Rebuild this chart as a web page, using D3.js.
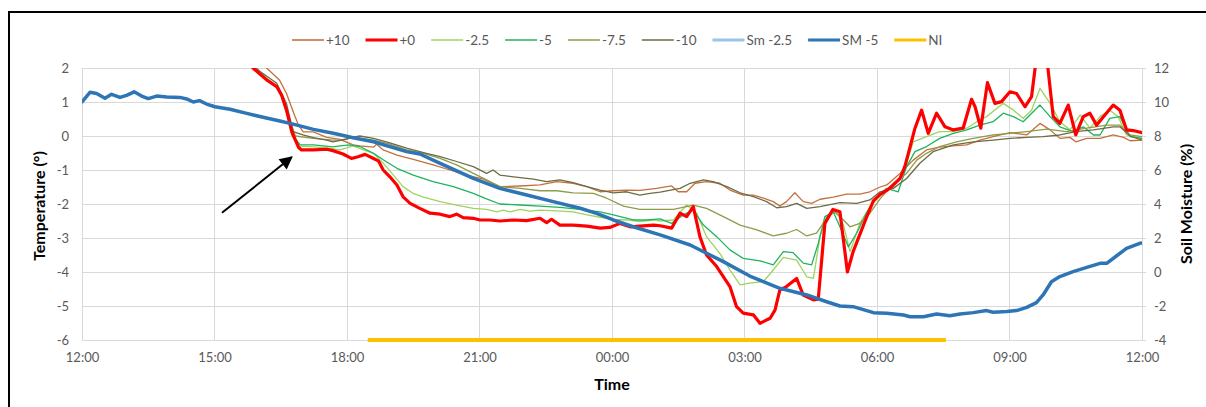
<!DOCTYPE html>
<html>
<head>
<meta charset="utf-8">
<script src="https://cdn.jsdelivr.net/npm/d3@7"></script>
<style>
  body { margin: 0; background: #fff; }
  svg { display: block; font-family: Lato, "Open Sans", sans-serif; }
</style>
</head>
<body>
<svg id="chart" width="1206" height="407"></svg>
<script>
// Time is given as hours after 12:00 on the first day (0..24).
const timeTicks = ["12:00", "15:00", "18:00", "21:00", "00:00", "03:00", "06:00", "09:00", "12:00"];
const tempTicks = [2, 1, 0, -1, -2, -3, -4, -5, -6];
const moistTicks = [12, 10, 8, 6, 4, 2, 0, -2, -4];

// Temperature (°) at each probe depth: [hours, value]
const plus10 = [[3.5,3.2],[4.18,2.0],[4.47,1.65],[4.63,1.25],[4.78,0.72],[4.9,0.32],[5.01,0.12],[5.24,0.12],[5.54,-0.04],[5.84,-0.1],[6.14,-0.26],[6.29,-0.29],[6.6,-0.33],[6.67,-0.24],[6.82,-0.41],[7.13,-0.56],[7.5,-0.69],[7.95,-0.85],[8.33,-1.0],[8.71,-1.15],[9.09,-1.27],[9.46,-1.49],[9.92,-1.47],[10.37,-1.44],[10.75,-1.34],[11.12,-1.39],[11.43,-1.49],[11.73,-1.64],[12.03,-1.61],[12.33,-1.59],[12.63,-1.6],[13.01,-1.54],[13.35,-1.47],[13.5,-1.64],[13.69,-1.64],[13.88,-1.39],[14.14,-1.34],[14.44,-1.39],[14.67,-1.59],[14.97,-1.74],[15.2,-1.74],[15.43,-1.83],[15.65,-1.93],[15.8,-2.06],[15.95,-1.93],[16.14,-1.67],[16.33,-1.93],[16.52,-1.98],[16.71,-1.86],[17.01,-1.8],[17.31,-1.71],[17.61,-1.71],[17.84,-1.64],[18.07,-1.5],[18.22,-1.44],[18.52,-1.1],[18.82,-0.71],[19.12,-0.41],[19.42,-0.33],[19.73,-0.29],[20.03,-0.26],[20.33,-0.12],[20.63,-0.02],[21.01,0.1],[21.39,0.03],[21.69,0.37],[21.92,0.18],[22.14,-0.07],[22.37,-0.04],[22.5,-0.17],[22.75,-0.07],[23.05,-0.07],[23.35,0.03],[23.58,-0.04],[23.73,-0.14],[24.0,-0.12]];

const plus0 = [[3.5,2.9],[3.87,2.0],[4.18,1.65],[4.41,1.45],[4.52,1.2],[4.63,0.76],[4.75,0.13],[4.9,-0.33],[4.97,-0.41],[5.24,-0.41],[5.54,-0.39],[5.68,-0.43],[5.91,-0.53],[6.1,-0.66],[6.25,-0.61],[6.41,-0.54],[6.6,-0.66],[6.71,-0.73],[6.82,-1.0],[6.97,-1.2],[7.13,-1.44],[7.27,-1.79],[7.43,-1.98],[7.65,-2.13],[7.88,-2.27],[8.11,-2.3],[8.33,-2.37],[8.48,-2.3],[8.63,-2.4],[8.86,-2.42],[9.01,-2.47],[9.24,-2.47],[9.46,-2.5],[9.77,-2.47],[10.07,-2.49],[10.37,-2.42],[10.52,-2.55],[10.63,-2.45],[10.82,-2.62],[11.12,-2.62],[11.43,-2.65],[11.73,-2.71],[11.95,-2.69],[12.18,-2.57],[12.41,-2.67],[12.63,-2.65],[12.94,-2.62],[13.09,-2.64],[13.35,-2.71],[13.54,-2.27],[13.69,-2.37],[13.84,-2.08],[13.99,-2.96],[14.14,-3.5],[14.37,-3.84],[14.67,-4.43],[14.82,-5.02],[14.97,-5.21],[15.2,-5.26],[15.35,-5.51],[15.58,-5.36],[15.69,-5.12],[15.8,-4.53],[15.95,-4.43],[16.18,-4.19],[16.33,-4.68],[16.56,-4.82],[16.67,-4.8],[16.82,-2.57],[17.0,-2.16],[17.16,-2.23],[17.33,-4.0],[17.46,-3.4],[17.61,-2.9],[17.76,-2.4],[17.92,-1.9],[18.07,-1.72],[18.22,-1.6],[18.37,-1.44],[18.52,-1.25],[18.63,-0.9],[18.75,-0.31],[18.86,0.23],[19.01,0.76],[19.16,0.08],[19.35,0.67],[19.54,0.27],[19.73,0.18],[19.95,0.23],[20.14,1.08],[20.22,0.86],[20.35,0.23],[20.5,1.57],[20.67,0.96],[20.82,1.01],[21.01,1.3],[21.16,1.25],[21.35,0.86],[21.5,1.16],[21.58,2.0],[21.7,2.8],[21.87,2.0],[21.99,0.57],[22.14,0.37],[22.33,0.91],[22.5,0.03],[22.67,0.57],[22.82,0.67],[22.97,0.32],[23.16,0.62],[23.35,0.91],[23.5,0.76],[23.65,0.18],[23.8,0.16],[24.0,0.1]];

const minus2_5 = [[3.5,2.9],[3.87,2.0],[4.18,1.7],[4.41,1.45],[4.52,1.15],[4.63,0.7],[4.75,0.0],[4.9,-0.3],[5.24,-0.32],[5.54,-0.35],[5.84,-0.41],[6.14,-0.29],[6.37,-0.41],[6.6,-0.51],[6.82,-0.8],[7.05,-1.15],[7.27,-1.49],[7.5,-1.69],[7.73,-1.8],[8.11,-1.93],[8.48,-2.03],[8.86,-2.13],[9.16,-2.16],[9.39,-2.23],[9.54,-2.18],[9.69,-2.23],[9.92,-2.16],[10.14,-2.21],[10.37,-2.18],[10.75,-2.2],[11.12,-2.23],[11.43,-2.32],[11.73,-2.39],[12.03,-2.45],[12.33,-2.47],[12.63,-2.52],[12.94,-2.47],[13.09,-2.5],[13.39,-2.47],[13.69,-2.03],[13.92,-2.27],[14.14,-2.96],[14.44,-3.45],[14.67,-3.94],[14.9,-4.38],[15.12,-4.33],[15.43,-4.28],[15.65,-3.94],[15.88,-3.57],[16.18,-3.65],[16.41,-4.14],[16.56,-4.19],[16.71,-2.96],[16.86,-2.37],[17.09,-2.23],[17.24,-2.62],[17.39,-3.4],[17.61,-2.57],[17.84,-2.08],[18.07,-1.76],[18.37,-1.49],[18.6,-1.1],[18.82,-0.17],[19.12,-0.02],[19.42,0.13],[19.73,0.13],[20.03,0.23],[20.26,0.42],[20.48,0.57],[20.71,0.81],[20.86,0.96],[21.09,0.76],[21.31,0.52],[21.5,0.76],[21.69,1.4],[21.92,0.96],[22.14,0.42],[22.37,0.18],[22.6,0.62],[22.82,0.23],[23.05,0.57],[23.27,0.76],[23.46,0.57],[23.65,0.03],[24.0,-0.07]];

const minus5 = [[3.5,2.8],[3.9,2.0],[4.2,1.65],[4.43,1.4],[4.55,1.1],[4.66,0.6],[4.78,0.0],[4.94,-0.26],[5.24,-0.26],[5.68,-0.32],[5.84,-0.29],[6.07,-0.26],[6.29,-0.31],[6.6,-0.51],[6.82,-0.7],[7.13,-0.95],[7.5,-1.15],[7.95,-1.34],[8.41,-1.49],[8.86,-1.69],[9.16,-1.85],[9.46,-2.0],[9.92,-2.03],[10.37,-2.06],[10.82,-2.1],[11.28,-2.16],[11.73,-2.23],[12.03,-2.32],[12.48,-2.47],[12.79,-2.47],[13.09,-2.44],[13.35,-2.57],[13.61,-2.32],[13.84,-2.18],[14.07,-2.62],[14.37,-2.96],[14.67,-3.35],[14.97,-3.6],[15.35,-3.67],[15.65,-3.79],[15.88,-3.4],[16.1,-3.43],[16.33,-3.74],[16.52,-3.79],[16.67,-3.16],[16.82,-2.37],[17.01,-2.23],[17.16,-2.67],[17.35,-3.26],[17.54,-2.86],[17.76,-2.27],[17.99,-1.8],[18.22,-1.54],[18.48,-1.64],[18.67,-0.9],[18.86,-0.46],[19.12,-0.31],[19.42,-0.07],[19.73,0.08],[20.03,0.18],[20.33,0.32],[20.63,0.42],[20.86,0.67],[21.09,0.57],[21.31,0.42],[21.69,0.91],[21.92,0.57],[22.14,0.27],[22.44,0.13],[22.67,0.27],[22.9,0.03],[23.05,0.03],[23.27,0.52],[23.5,0.57],[23.73,-0.02],[24.0,-0.07]];

const minus7_5 = [[3.5,2.9],[3.95,2.0],[4.25,1.6],[4.45,1.4],[4.58,1.05],[4.7,0.5],[4.83,0.0],[5.24,-0.07],[5.68,-0.12],[5.84,-0.12],[6.14,-0.04],[6.6,-0.12],[6.97,-0.24],[7.35,-0.41],[7.73,-0.51],[8.11,-0.66],[8.48,-0.85],[8.86,-1.1],[9.16,-1.29],[9.46,-1.49],[9.92,-1.54],[10.37,-1.61],[10.75,-1.61],[11.12,-1.67],[11.58,-1.69],[11.88,-1.83],[12.26,-2.06],[12.63,-2.16],[13.01,-2.16],[13.39,-2.16],[13.84,-2.03],[14.14,-2.13],[14.52,-2.37],[14.9,-2.62],[15.28,-2.76],[15.65,-2.94],[15.95,-2.86],[16.18,-2.75],[16.41,-2.94],[16.63,-2.86],[16.86,-2.42],[17.01,-2.2],[17.24,-2.47],[17.39,-2.67],[17.61,-2.57],[17.84,-2.27],[18.07,-1.85],[18.37,-1.39],[18.67,-1.1],[18.9,-0.71],[19.12,-0.51],[19.42,-0.31],[19.8,-0.17],[20.18,-0.07],[20.63,0.03],[21.01,0.08],[21.39,0.13],[21.84,0.2],[22.29,0.13],[22.75,0.23],[23.2,0.32],[23.5,0.32],[23.73,0.03],[24.0,-0.02]];

const minus10 = [[3.5,3.0],[3.92,2.0],[4.41,1.55],[4.63,0.95],[4.78,0.13],[5.0,0.03],[5.24,-0.05],[5.54,-0.12],[5.68,-0.17],[5.97,-0.1],[6.14,-0.03],[6.29,0.0],[6.6,-0.07],[6.97,-0.2],[7.35,-0.36],[7.8,-0.51],[8.11,-0.61],[8.48,-0.75],[8.86,-0.9],[9.16,-1.1],[9.31,-1.0],[9.46,-1.15],[9.77,-1.2],[10.22,-1.27],[10.52,-1.34],[10.82,-1.29],[11.12,-1.37],[11.43,-1.49],[11.73,-1.59],[12.03,-1.67],[12.33,-1.64],[12.63,-1.74],[12.86,-1.69],[13.09,-1.65],[13.54,-1.54],[13.77,-1.39],[14.07,-1.29],[14.29,-1.34],[14.6,-1.49],[14.9,-1.67],[15.2,-1.78],[15.5,-1.93],[15.73,-2.11],[15.95,-2.08],[16.18,-1.98],[16.41,-2.13],[16.71,-2.08],[17.16,-1.96],[17.54,-1.98],[17.84,-1.88],[18.07,-1.64],[18.37,-1.54],[18.67,-1.25],[18.97,-0.8],[19.27,-0.46],[19.73,-0.26],[20.18,-0.17],[20.63,-0.12],[21.01,-0.07],[21.39,-0.04],[21.76,-0.02],[22.14,0.03],[22.5,0.13],[22.9,0.18],[23.35,0.27],[23.5,0.27],[23.73,0.0],[24.0,-0.12]];

// Soil moisture (%) — Sm -2.5 has no readings in this period
const smMinus2_5 = [];
const smMinus5 = [[0,10.0],[0.18,10.57],[0.33,10.5],[0.52,10.22],[0.67,10.45],[0.86,10.27],[1.01,10.39],[1.18,10.6],[1.35,10.35],[1.5,10.2],[1.69,10.35],[1.92,10.3],[2.22,10.27],[2.37,10.18],[2.52,10.0],[2.66,10.08],[2.82,9.88],[3.01,9.72],[3.35,9.57],[3.73,9.33],[4.1,9.1],[4.48,8.88],[4.78,8.7],[5.24,8.39],[5.69,8.16],[6.14,7.9],[6.6,7.66],[7.35,7.08],[7.65,6.94],[8.11,6.39],[8.86,5.51],[9.46,4.92],[10.07,4.53],[10.67,4.14],[11.28,3.75],[11.65,3.45],[12.03,3.06],[12.48,2.66],[13.09,2.18],[13.77,1.59],[14.52,0.61],[15.12,-0.24],[15.8,-0.96],[16.41,-1.35],[16.86,-1.75],[17.16,-2.0],[17.46,-2.04],[17.92,-2.39],[18.22,-2.43],[18.6,-2.53],[18.75,-2.63],[19.05,-2.63],[19.35,-2.47],[19.65,-2.57],[19.88,-2.47],[20.18,-2.39],[20.48,-2.27],[20.63,-2.37],[20.94,-2.33],[21.16,-2.27],[21.39,-2.08],[21.61,-1.8],[21.76,-1.35],[21.95,-0.57],[22.14,-0.27],[22.44,0.02],[22.75,0.27],[23.05,0.51],[23.2,0.51],[23.42,0.94],[23.65,1.39],[23.95,1.69],[24.0,1.7]];

// NI period, drawn along the bottom of the temperature axis
const niPeriod = [[6.47,-6],[19.56,-6]];

// Annotation arrow, in data units: [hours, temperature]
const arrowFrom = [3.17, -2.26];
const arrowTo = [4.75, -0.62];

const plot = { left: 82, right: 1142, top: 68, bottom: 340 };

const svg = d3.select("#chart");

// Outer chart frame
svg.append("rect")
  .attr("x", 9).attr("y", 12)
  .attr("width", 1400).attr("height", 600)
  .attr("fill", "none").attr("stroke", "#000").attr("stroke-width", 2);

const x = d3.scaleLinear().domain([0, 24]).range([plot.left, plot.right]);
const yT = d3.scaleLinear().domain([-6, 2]).range([plot.bottom, plot.top]);
const yM = d3.scaleLinear().domain([-4, 12]).range([plot.bottom, plot.top]);

const gridColor = "#d9d9d9";
const textColor = "#595959";

// Gridlines
const grid = svg.append("g");
grid.selectAll("line.h").data(tempTicks).join("line")
  .attr("x1", plot.left).attr("x2", plot.right)
  .attr("y1", d => yT(d)).attr("y2", d => yT(d))
  .attr("stroke", gridColor).attr("stroke-width", 1).attr("shape-rendering", "crispEdges");
const xTickVals = d3.range(0, 25, 3);
grid.selectAll("line.v").data(xTickVals).join("line")
  .attr("x1", d => x(d)).attr("x2", d => x(d))
  .attr("y1", plot.top).attr("y2", plot.bottom)
  .attr("stroke", gridColor).attr("stroke-width", 1).attr("shape-rendering", "crispEdges");

// Axes
const xAxis = svg.append("g")
  .attr("transform", `translate(0,${plot.bottom})`)
  .call(d3.axisBottom(x).tickValues(xTickVals).tickFormat((d, i) => timeTicks[i]).tickSize(0).tickPadding(13));
const leftAxis = svg.append("g")
  .attr("transform", `translate(${plot.left},0)`)
  .call(d3.axisLeft(yT).tickValues(tempTicks).tickFormat(d3.format("d")).tickSize(0).tickPadding(13));
const rightAxis = svg.append("g")
  .attr("transform", `translate(${plot.right},0)`)
  .call(d3.axisRight(yM).tickValues(moistTicks).tickFormat(d3.format("d")).tickSize(4).tickPadding(8));

[xAxis, leftAxis, rightAxis].forEach(g => {
  g.select(".domain").attr("stroke", gridColor).attr("shape-rendering", "crispEdges");
  g.selectAll(".tick line").attr("stroke", gridColor);
  g.selectAll("text").attr("fill", textColor).style("font-size", "13px").style("font-family", "Lato, 'Open Sans', sans-serif");
});
leftAxis.selectAll("text").text(d => d < 0 ? "-" + Math.abs(d) : d);
rightAxis.selectAll("text").text(d => d < 0 ? "-" + Math.abs(d) : d);

// Axis titles
svg.append("text")
  .attr("transform", `translate(45,${(plot.top + plot.bottom) / 2 + 2}) rotate(-90)`)
  .attr("text-anchor", "middle")
  .style("font-size", "16px").style("font-weight", "bold").attr("fill", "#000")
  .text("Temperature (°)");
svg.append("text")
  .attr("transform", `translate(1192,${(plot.top + plot.bottom) / 2}) rotate(-90)`)
  .attr("text-anchor", "middle")
  .style("font-size", "16px").style("font-weight", "bold").attr("fill", "#000")
  .text("Soil Moisture (%)");
svg.append("text")
  .attr("x", (plot.left + plot.right) / 2).attr("y", 390)
  .attr("text-anchor", "middle")
  .style("font-size", "16px").style("font-weight", "bold").attr("fill", "#000")
  .text("Time");

// Clip region for the data lines
svg.append("clipPath").attr("id", "plotClip")
  .append("rect")
  .attr("x", plot.left).attr("y", plot.top)
  .attr("width", plot.right - plot.left).attr("height", plot.bottom - plot.top);

const series = [
  { name: "+10",    data: plus10,     axis: yT, color: "#c4703c", width: 1.3 },
  { name: "+0",     data: plus0,      axis: yT, color: "#ff0000", width: 3.2 },
  { name: "-2.5",   data: minus2_5,   axis: yT, color: "#9fd360", width: 1.3 },
  { name: "-5",     data: minus5,     axis: yT, color: "#1fb35e", width: 1.3 },
  { name: "-7.5",   data: minus7_5,   axis: yT, color: "#8d9c48", width: 1.3 },
  { name: "-10",    data: minus10,    axis: yT, color: "#6e6a45", width: 1.3 },
  { name: "Sm -2.5",data: smMinus2_5, axis: yM, color: "#9dc3e6", width: 3.5 },
  { name: "SM -5",  data: smMinus5,   axis: yM, color: "#2e75b6", width: 3.5 },
  { name: "NI",     data: niPeriod,   axis: yT, color: "#ffc000", width: 4 }
];

const clipped = svg.append("g").attr("clip-path", "url(#plotClip)");
// thin probe lines first, then the heavy ones on top
const drawOrder = ["+10", "-2.5", "-5", "-7.5", "-10", "+0", "Sm -2.5", "SM -5"];
drawOrder.forEach(n => {
  const s = series.find(d => d.name === n);
  if (!s.data.length) return;
  const line = d3.line().x(d => x(d[0])).y(d => s.axis(d[1]));
  clipped.append("path")
    .datum(s.data)
    .attr("d", line)
    .attr("fill", "none")
    .attr("stroke", s.color)
    .attr("stroke-width", s.width)
    .attr("stroke-linejoin", "round")
    .attr("stroke-linecap", "round");
});
{
  const s = series.find(d => d.name === "NI");
  svg.append("path")
    .datum(s.data)
    .attr("d", d3.line().x(d => x(d[0])).y(d => s.axis(d[1])))
    .attr("fill", "none").attr("stroke", s.color).attr("stroke-width", s.width);
}

// Annotation arrow
svg.append("defs").append("marker")
  .attr("id", "arrowHead")
  .attr("viewBox", "0 0 10 10").attr("refX", 9).attr("refY", 5)
  .attr("markerWidth", 7).attr("markerHeight", 6.5)
  .attr("markerUnits", "strokeWidth")
  .attr("orient", "auto")
  .append("path").attr("d", "M0,0 L10,5 L0,10 Z").attr("fill", "#000");
svg.append("line")
  .attr("x1", x(arrowFrom[0])).attr("y1", yT(arrowFrom[1]))
  .attr("x2", x(arrowTo[0])).attr("y2", yT(arrowTo[1]))
  .attr("stroke", "#000").attr("stroke-width", 2)
  .attr("marker-end", "url(#arrowHead)");

// Legend
const legend = svg.append("g").attr("transform", "translate(292,40)");
let lx = 0;
series.forEach(s => {
  const g = legend.append("g").attr("transform", `translate(${lx},0)`);
  g.append("line").attr("x1", 0).attr("x2", 32).attr("y1", 0).attr("y2", 0)
    .attr("stroke", s.color).attr("stroke-width", s.width > 2 ? 3 : 1.6);
  const t = g.append("text").attr("x", 34).attr("y", 0).attr("dy", "0.35em")
    .attr("fill", textColor).style("font-size", "13.5px").text(s.name);
  lx += 34 + t.node().getComputedTextLength() + 16;
});
</script>
</body>
</html>
